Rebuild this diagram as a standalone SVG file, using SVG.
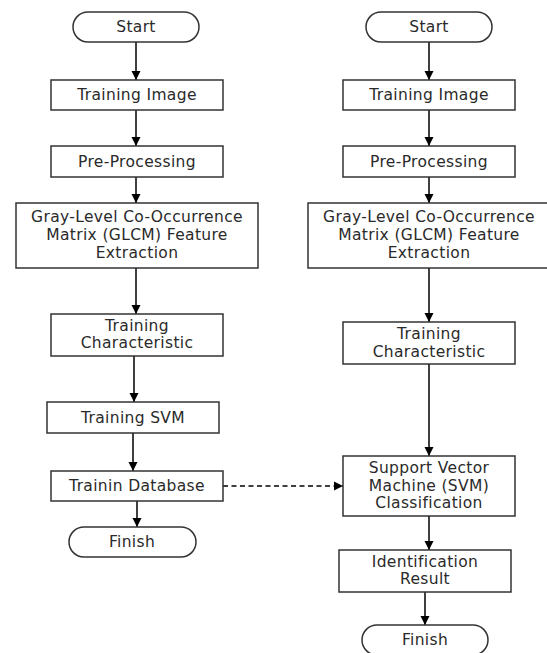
<svg xmlns="http://www.w3.org/2000/svg" width="547" height="653" viewBox="0 0 547 653">
<style>
.n{fill:#fff;stroke:#333;stroke-width:1.5}
.t{font-family:"DejaVu Sans",sans-serif;font-size:15.5px;letter-spacing:0.35px;fill:#2a2a2a;text-anchor:middle;dominant-baseline:central}
.c{stroke:#000;stroke-width:1.5;fill:none}
</style>
<defs>
<marker id="a" viewBox="0 0 10 10" refX="10" refY="5" markerWidth="9" markerHeight="11" markerUnits="userSpaceOnUse" orient="auto"><path d="M0,0L10,5L0,10z" fill="#000"/></marker>
</defs>
<rect width="547" height="653" fill="#fff"/>
<g id="connectors">
<line class="c" x1="136" y1="42" x2="136" y2="80" marker-end="url(#a)"/>
<line class="c" x1="136" y1="110" x2="136" y2="146" marker-end="url(#a)"/>
<line class="c" x1="136" y1="177" x2="136" y2="203" marker-end="url(#a)"/>
<line class="c" x1="136" y1="268" x2="136" y2="314" marker-end="url(#a)"/>
<line class="c" x1="134" y1="356" x2="134" y2="402" marker-end="url(#a)"/>
<line class="c" x1="133" y1="433" x2="133" y2="471" marker-end="url(#a)"/>
<line class="c" x1="137" y1="501" x2="137" y2="527" marker-end="url(#a)"/>
<line class="c" x1="429" y1="42" x2="429" y2="80" marker-end="url(#a)"/>
<line class="c" x1="429" y1="110" x2="429" y2="146" marker-end="url(#a)"/>
<line class="c" x1="429" y1="177" x2="429" y2="203" marker-end="url(#a)"/>
<line class="c" x1="429" y1="268" x2="429" y2="322" marker-end="url(#a)"/>
<line class="c" x1="429" y1="364" x2="429" y2="456" marker-end="url(#a)"/>
<line class="c" x1="429" y1="516" x2="429" y2="550" marker-end="url(#a)"/>
<line class="c" x1="425" y1="592" x2="425" y2="625" marker-end="url(#a)"/>
<line class="c" x1="223" y1="486" x2="343" y2="486" stroke-dasharray="5,3.5" marker-end="url(#a)"/>
</g>
<g id="start1"><rect class="n" x="73" y="12" width="126" height="30" rx="15" ry="15"/><text class="t" x="136" y="27">Start</text></g>
<g id="trainimg1"><rect class="n" x="51" y="80" width="172" height="30"/><text class="t" x="137" y="95">Training Image</text></g>
<g id="preproc1"><rect class="n" x="51" y="146" width="172" height="31"/><text class="t" x="137" y="161.5">Pre-Processing</text></g>
<g id="glcm1"><rect class="n" x="16" y="203" width="242" height="65"/><text class="t" x="137" y="217">Gray-Level Co-Occurrence</text><text class="t" x="137" y="235">Matrix (GLCM) Feature</text><text class="t" x="137" y="253">Extraction</text></g>
<g id="char1"><rect class="n" x="51" y="314" width="172" height="42"/><text class="t" x="137" y="326">Training</text><text class="t" x="137" y="343">Characteristic</text></g>
<g id="svm1"><rect class="n" x="47" y="402" width="172" height="31"/><text class="t" x="133" y="417.5">Training SVM</text></g>
<g id="db1"><rect class="n" x="51" y="471" width="172" height="30"/><text class="t" x="137" y="486">Trainin Database</text></g>
<g id="finish1"><rect class="n" x="69" y="527" width="127" height="30" rx="15" ry="15"/><text class="t" x="132" y="542">Finish</text></g>
<g id="start2"><rect class="n" x="366" y="12" width="126" height="30" rx="15" ry="15"/><text class="t" x="429" y="27">Start</text></g>
<g id="trainimg2"><rect class="n" x="343" y="80" width="172" height="30"/><text class="t" x="429" y="95">Training Image</text></g>
<g id="preproc2"><rect class="n" x="343" y="146" width="172" height="31"/><text class="t" x="429" y="161.5">Pre-Processing</text></g>
<g id="glcm2"><rect class="n" x="308" y="203" width="242" height="65"/><text class="t" x="429" y="217">Gray-Level Co-Occurrence</text><text class="t" x="429" y="235">Matrix (GLCM) Feature</text><text class="t" x="429" y="253">Extraction</text></g>
<g id="char2"><rect class="n" x="343" y="322" width="172" height="42"/><text class="t" x="429" y="334">Training</text><text class="t" x="429" y="352">Characteristic</text></g>
<g id="svmclass"><rect class="n" x="343" y="456" width="172" height="60"/><text class="t" x="429" y="468">Support Vector</text><text class="t" x="429" y="486">Machine (SVM)</text><text class="t" x="429" y="503">Classification</text></g>
<g id="result"><rect class="n" x="339" y="550" width="172" height="42"/><text class="t" x="425" y="562">Identification</text><text class="t" x="425" y="579">Result</text></g>
<g id="finish2"><rect class="n" x="362" y="625" width="126" height="30" rx="15" ry="15"/><text class="t" x="425" y="640">Finish</text></g>
</svg>
